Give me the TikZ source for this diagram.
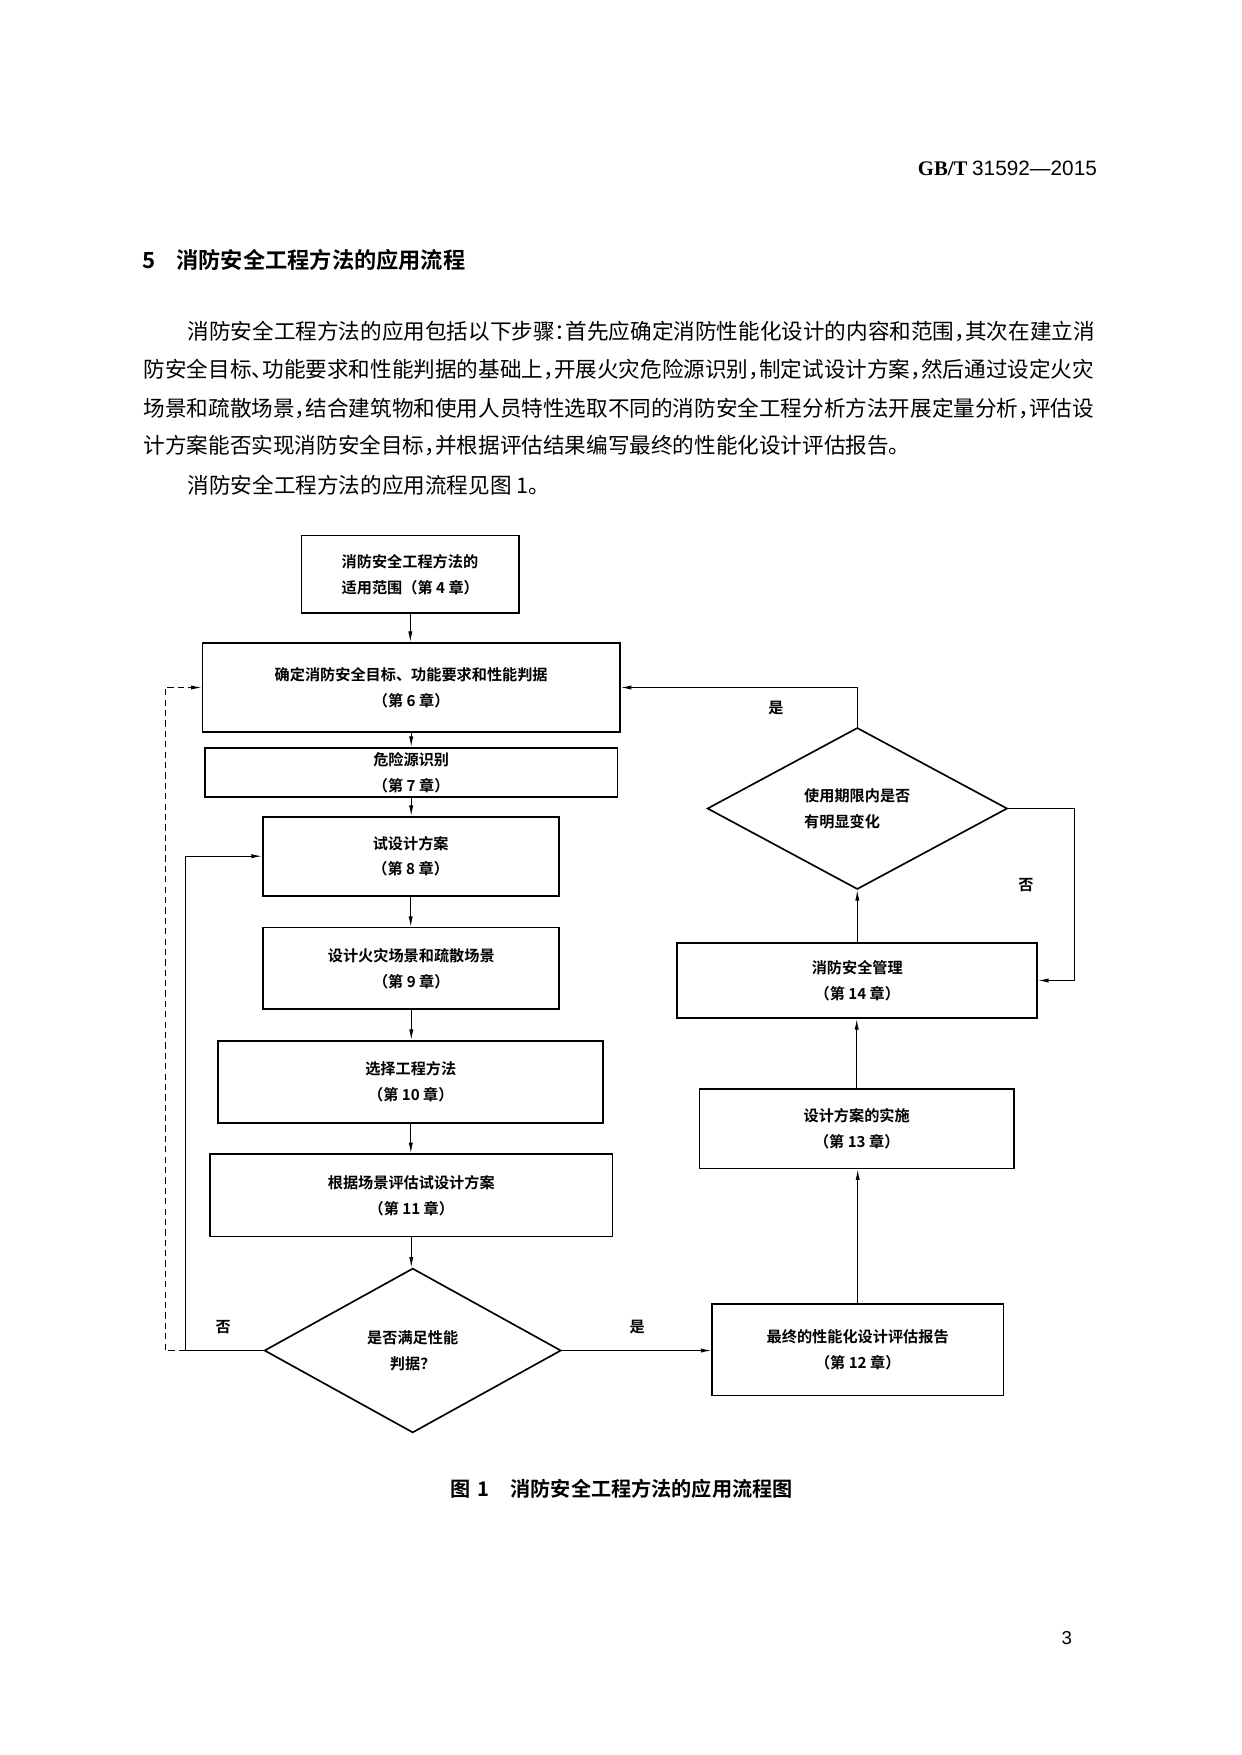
\documentclass[tikz,border=0pt]{standalone}
\usepackage{fontspec}
\setmainfont{Noto Sans CJK SC}[BoldFont={* Bold}]
\newfontfamily\bodyfont{Noto Sans CJK SC}[RawFeature=+halt]
\newfontfamily\serifhead{Liberation Serif}
\newfontfamily\sanshead{Liberation Sans}
\usetikzlibrary{arrows.meta,shapes.geometric}
\newlength\pxu
\setlength\pxu{0.16922mm}
\tikzset{
  stage/.style={draw,line width=0.8pt,inner sep=0pt,align=center,font=\bfseries\fontsize{7.3}{12.5}\selectfont},
  decide/.style={stage,diamond},
  boxdim/.style 2 args={minimum width=#1*\pxu,minimum height=#2*\pxu},
  flow/.style={line width=0.45pt,-{Latex[length=5pt,width=2pt]}},
  feedback/.style={flow,dash pattern=on 3pt off 2pt},
  answer/.style={font=\bfseries\fontsize{7.3}{9}\selectfont},
  bodyline/.style={anchor=west,inner sep=0pt,font=\bodyfont\fontsize{10.4}{12}\selectfont},
}
\begin{document}
\begin{tikzpicture}[x=0.16922mm,y=-0.16922mm]
        \fill[white] (0,0) rectangle (1241,1755);
        \useasboundingbox (0,0) rectangle (1241,1755);

        % Page text
        \node[anchor=east,inner sep=0pt,font=\fontsize{10}{12}\selectfont] (code) at (1097.3,168.3)
            {{\serifhead\bfseries GB/T} {\sanshead 31592—2015}};
        \node[anchor=west,inner sep=0pt,font=\bfseries\fontsize{10.7}{12}\selectfont] (sec) at (141.7,260)
            {5\hspace{3.6mm}消防安全工程方法的应用流程};
        \node[bodyline] (p1) at (187.3,331.7) {消防安全工程方法的应用包括以下步骤：首先应确定消防性能化设计的内容和范围，其次在建立消};
        \node[bodyline] (p2) at (143.3,369.3) {防安全目标、功能要求和性能判据的基础上，开展火灾危险源识别，制定试设计方案，然后通过设定火灾};
        \node[bodyline] (p3) at (143.3,408.3) {场景和疏散场景，结合建筑物和使用人员特性选取不同的消防安全工程分析方法开展定量分析，评估设};
        \node[bodyline] (p4) at (143.3,445) {计方案能否实现消防安全目标，并根据评估结果编写最终的性能化设计评估报告。};
        \node[bodyline] (p5) at (187.3,485) {消防安全工程方法的应用流程见图 1。};

        % Left column
        \node[stage,boxdim={217.3}{77.3},align=left] (scope) at (410.3,574.3) {消防安全工程方法的\\适用范围（第 4 章）};
        \node[stage,boxdim={417.7}{89.6}] (goal) at (411.2,687.5) {确定消防安全目标、功能要求和性能判据\\（第 6 章）};
        \node[stage,boxdim={412.3}{49.6}] (hazard) at (411.2,772.5) {危险源识别\\（第 7 章）};
        \node[stage,boxdim={296}{79}] (trial) at (410.7,856.2) {试设计方案\\（第 8 章）};
        \node[stage,boxdim={296}{81.3}] (scene) at (411.3,968.3) {设计火灾场景和疏散场景\\（第 9 章）};
        \node[stage,boxdim={385}{82.6}] (method) at (410.8,1082) {选择工程方法\\（第 10 章）};
        \node[stage,boxdim={402.7}{82.7}] (assess) at (411.3,1195.3) {根据场景评估试设计方案\\（第 11 章）};
        \node[decide,boxdim={296.7}{164.4}] (check) at (412.7,1350.5) {是否满足性能\\判据？};

        % Right column
        \node[stage,boxdim={291.3}{91.3}] (report) at (857.7,1349.7) {最终的性能化设计评估报告\\（第 12 章）};
        \node[stage,boxdim={314.7}{79.7}] (build) at (856.7,1128.8) {设计方案的实施\\（第 13 章）};
        \node[stage,boxdim={360}{75.6}] (manage) at (857.3,980.5) {消防安全管理\\（第 14 章）};
        \node[decide,boxdim={300}{161.6},align=left] (change) at (857.3,808.5) {使用期限内是否\\有明显变化};

        % Arrows
        \foreach \a/\b in {scope/goal,goal/hazard,hazard/trial,trial/scene,scene/method,method/assess,assess/check}
           {
                \draw[flow] (\a.south) -- (\a.south |- \b.north);
           }
        \foreach \a/\b in {report/build,build/manage,manage/change}
           {
                \draw[flow] (\a.north) -- (\a.north |- \b.south);
           }

        \coordinate (noturn) at (185,1350.5);
        \coordinate (dashturn) at (165,1350.5);
        \coordinate (rightturn) at (1074,808.5);
        \draw[flow] (check.east) -- (check.east -| report.west);
        \draw[flow] (check.west) -- (noturn) |- (trial.west);
        \draw[feedback] (noturn) -- (dashturn) |- (goal.west);
        \draw[flow] (change.north) |- (goal.east);
        \draw[flow] (change.east) -- (rightturn) |- (manage.east);

        \node[answer] (yes1) at (637.3,1327) {是};
        \node[answer] (no1) at (223.3,1327.3) {否};
        \node[answer] (yes2) at (776,707.7) {是};
        \node[answer] (no2) at (1026,885) {否};

        % Caption and page number
        \node[font=\bfseries\fontsize{9.7}{12}\selectfont] (cap) at (621.7,1489)
            {图\hspace{1.2mm}1\hspace{3.5mm}消防安全工程方法的应用流程图};
        \node[font=\sanshead\fontsize{9}{10}\selectfont] (pg) at (1066.7,1638.3) {3};
    \end{tikzpicture}
\end{document}
